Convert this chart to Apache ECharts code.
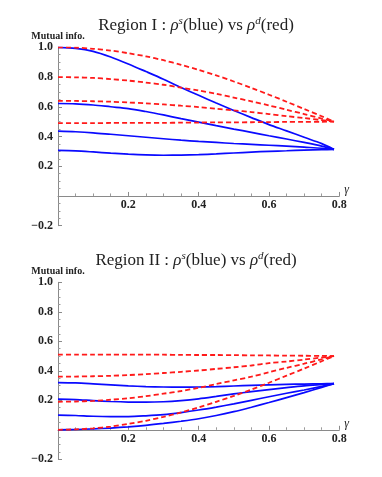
<!DOCTYPE html>
<html><head><meta charset="utf-8">
<script src="https://cdn.jsdelivr.net/npm/echarts/dist/echarts.min.js"></script>
<style>html,body{margin:0;padding:0;background:#fff}#c{width:382px;height:477px}</style>
</head><body><div id="c"></div><script>
// gamma sample points (x axis)
const gamma = [0, 0.05, 0.1, 0.15, 0.2, 0.25, 0.3, 0.35, 0.4, 0.45, 0.5, 0.55, 0.6, 0.65, 0.7, 0.75, 0.785];

// Region I : blue (rho^s)
const r1Blue1 = [1.0, 0.993, 0.973, 0.935, 0.888, 0.837, 0.785, 0.73, 0.677, 0.625, 0.575, 0.527, 0.48, 0.438, 0.395, 0.352, 0.313];
const r1Blue2 = [0.622, 0.62, 0.612, 0.6, 0.588, 0.568, 0.545, 0.52, 0.497, 0.473, 0.45, 0.428, 0.405, 0.383, 0.36, 0.335, 0.313];
const r1Blue3 = [0.436, 0.432, 0.425, 0.415, 0.405, 0.395, 0.385, 0.375, 0.367, 0.36, 0.353, 0.347, 0.341, 0.335, 0.328, 0.321, 0.313];
const r1Blue4 = [0.306, 0.303, 0.296, 0.288, 0.281, 0.276, 0.274, 0.275, 0.278, 0.283, 0.289, 0.295, 0.3, 0.304, 0.308, 0.311, 0.313];
// Region I : red (rho^d)
const r1Red1 = [1.0, 0.998, 0.99, 0.978, 0.96, 0.939, 0.913, 0.882, 0.848, 0.811, 0.77, 0.727, 0.681, 0.634, 0.585, 0.536, 0.5];
const r1Red2 = [0.8, 0.798, 0.794, 0.786, 0.776, 0.763, 0.748, 0.729, 0.709, 0.687, 0.662, 0.636, 0.609, 0.58, 0.551, 0.521, 0.5];
const r1Red3 = [0.64, 0.639, 0.637, 0.634, 0.629, 0.623, 0.616, 0.607, 0.598, 0.587, 0.576, 0.564, 0.551, 0.537, 0.524, 0.51, 0.5];
const r1Red4 = [0.49, 0.49, 0.49, 0.491, 0.491, 0.492, 0.492, 0.493, 0.494, 0.495, 0.495, 0.496, 0.497, 0.498, 0.498, 0.499, 0.5];

// Region II : blue (rho^s)
const r2Blue1 = [0.32, 0.318, 0.312, 0.305, 0.298, 0.293, 0.29, 0.289, 0.29, 0.293, 0.297, 0.301, 0.305, 0.308, 0.31, 0.312, 0.313];
const r2Blue2 = [0.208, 0.205, 0.198, 0.192, 0.188, 0.187, 0.19, 0.198, 0.21, 0.226, 0.243, 0.259, 0.273, 0.286, 0.298, 0.307, 0.313];
const r2Blue3 = [0.1, 0.097, 0.092, 0.09, 0.09, 0.095, 0.103, 0.117, 0.134, 0.154, 0.176, 0.2, 0.224, 0.248, 0.27, 0.294, 0.313];
const r2Blue4 = [0, 0.002, 0.006, 0.012, 0.02, 0.03, 0.043, 0.058, 0.075, 0.097, 0.123, 0.153, 0.185, 0.218, 0.252, 0.288, 0.313];
// Region II : red (rho^d)
const r2Red1 = [0.51, 0.51, 0.51, 0.51, 0.51, 0.509, 0.509, 0.508, 0.507, 0.507, 0.506, 0.505, 0.504, 0.503, 0.502, 0.501, 0.5];
const r2Red2 = [0.36, 0.361, 0.363, 0.366, 0.371, 0.377, 0.385, 0.393, 0.402, 0.413, 0.424, 0.436, 0.452, 0.463, 0.476, 0.49, 0.5];
const r2Red3 = [0.19, 0.192, 0.196, 0.204, 0.214, 0.228, 0.245, 0.263, 0.285, 0.31, 0.335, 0.36, 0.39, 0.42, 0.448, 0.478, 0.5];
const r2Red4 = [0, 0.003, 0.01, 0.022, 0.04, 0.061, 0.088, 0.118, 0.152, 0.19, 0.23, 0.273, 0.319, 0.367, 0.415, 0.465, 0.5];

// Axis ticks
const xTicks = {min: 0, max: 0.8, interval: 0.2};
const yTicks = {min: -0.2, max: 1.0, interval: 0.2};

const SERIF = '"Liberation Serif","DejaVu Serif",serif';
const chart = echarts.init(document.getElementById('c'), null, {renderer: 'canvas'});

// grid geometry
const grids = [
  {left: 58, right: 42.7, top: 47.3, bottom: 251.3},
  {left: 58, right: 42.7, top: 282.3, bottom: 17.7}
];
function zeroOffset(g) {
  const h = 477 - g.top - g.bottom;
  return -h * (0 - yTicks.min) / (yTicks.max - yTicks.min);
}

function xAxis(gi) {
  return {
    type: 'value', gridIndex: gi, min: xTicks.min, max: xTicks.max, interval: xTicks.interval,
    position: 'bottom', offset: zeroOffset(grids[gi]),
    axisLine: {onZero: false, lineStyle: {color: '#8a8a8a', width: 1}},
    axisTick: {inside: true, length: 4, lineStyle: {color: '#8a8a8a'}},
    minorTick: {show: true, splitNumber: 4, length: 2.5, lineStyle: {color: '#9a9a9a'}},
    splitLine: {show: false},
    axisLabel: {
      formatter: v => Math.abs(v) < 1e-9 ? '' : v.toFixed(1),
      fontFamily: SERIF, fontWeight: 'bold', fontSize: 12, color: '#222', margin: 3
    },
    name: 'γ', nameLocation: 'end', nameGap: 5,
    nameTextStyle: {fontStyle: 'italic', fontFamily: SERIF, fontSize: 12, color: '#222', verticalAlign: 'bottom'}
  };
}
function yAxis(gi) {
  return {
    type: 'value', gridIndex: gi, min: yTicks.min, max: yTicks.max, interval: yTicks.interval,
    axisLine: {onZero: false, lineStyle: {color: '#8a8a8a', width: 1}},
    axisTick: {inside: true, length: 4, lineStyle: {color: '#8a8a8a'}},
    minorTick: {show: true, splitNumber: 4, length: 2.5, lineStyle: {color: '#9a9a9a'}},
    splitLine: {show: false},
    axisLabel: {
      formatter: v => Math.abs(v) < 1e-9 ? '' : (v < 0 ? '\u2212' : '') + Math.abs(v).toFixed(1),
      fontFamily: SERIF, fontWeight: 'bold', fontSize: 12, color: '#222', margin: 5
    },
    name: 'Mutual info.', nameLocation: 'end', nameGap: 5,
    nameTextStyle: {fontFamily: SERIF, fontWeight: 'bold', fontSize: 10, color: '#222', align: 'center'}
  };
}
function mk(arr) { return gamma.map((g, i) => [g, arr[i]]); }
function blue(arr, gi) {
  return {type: 'line', xAxisIndex: gi, yAxisIndex: gi, data: mk(arr), smooth: 0.3, showSymbol: false,
    lineStyle: {color: '#0a0aff', width: 1.7}, z: 3};
}
function red(arr, gi) {
  return {type: 'line', xAxisIndex: gi, yAxisIndex: gi, data: mk(arr), smooth: 0.3, showSymbol: false,
    lineStyle: {color: '#ff1a1a', width: 1.8, type: [5, 3]}, z: 4};
}
const titleRich = {
  a: {fontFamily: SERIF, fontSize: 17, fontWeight: 'normal', color: '#222'},
  r: {fontFamily: SERIF, fontSize: 17, fontWeight: 'normal', fontStyle: 'italic', color: '#222'},
  sup: {fontFamily: SERIF, fontSize: 11, fontWeight: 'normal', fontStyle: 'italic', color: '#222', padding: [0, 0, 9, 0]}
};
function titleText(reg) {
  return '{a|Region ' + reg + ' : }{r|ρ}{sup|s}{a|(blue) vs }{r|ρ}{sup|d}{a|(red)}';
}
chart.setOption({
  backgroundColor: '#fff',
  animation: false,
  title: [
    {text: titleText('I'), left: 191, top: 11, textAlign: 'center', textStyle: {fontWeight: 'normal', rich: titleRich}},
    {text: titleText('II'), left: 191, top: 246, textAlign: 'center', textStyle: {fontWeight: 'normal', rich: titleRich}}
  ],
  grid: grids,
  xAxis: [xAxis(0), xAxis(1)],
  yAxis: [yAxis(0), yAxis(1)],
  series: [
    blue(r1Blue1, 0), blue(r1Blue2, 0), blue(r1Blue3, 0), blue(r1Blue4, 0),
    red(r1Red1, 0), red(r1Red2, 0), red(r1Red3, 0), red(r1Red4, 0),
    blue(r2Blue1, 1), blue(r2Blue2, 1), blue(r2Blue3, 1), blue(r2Blue4, 1),
    red(r2Red1, 1), red(r2Red2, 1), red(r2Red3, 1), red(r2Red4, 1)
  ]
});
</script></body></html>
